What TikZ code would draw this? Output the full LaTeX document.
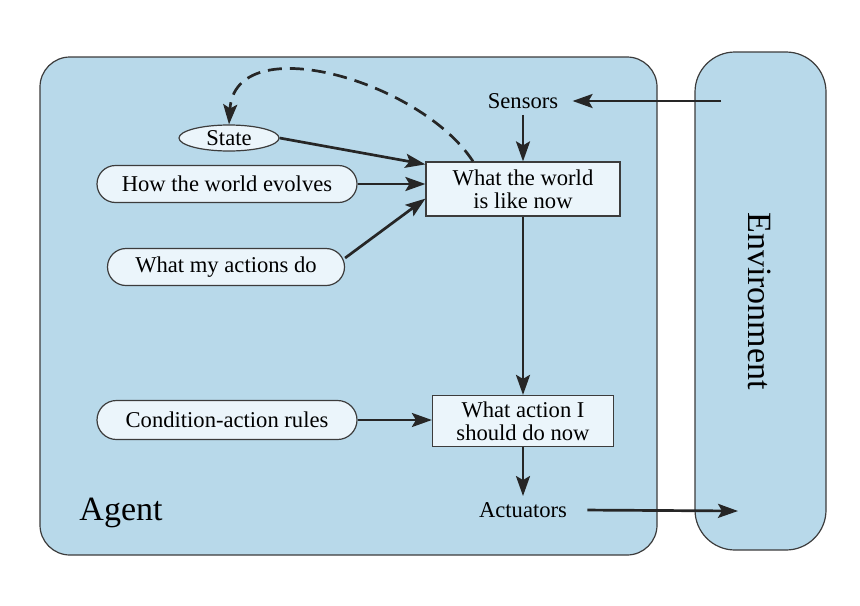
\documentclass[tikz,border=0pt]{standalone}
\usepackage{fontspec}
\setmainfont{Liberation Serif}
\usetikzlibrary{shapes.misc,shapes.geometric,arrows.meta}

\definecolor{agentblue}{HTML}{B8D9EA}
\definecolor{boxfill}{HTML}{EBF5FB}
\definecolor{edgegray}{HTML}{3C3C3C}

\tikzset{
  pill/.style={rounded rectangle, draw=edgegray, fill=boxfill, line width=0.6pt,
    minimum height=18.5pt, inner sep=0pt},
  mbox/.style={rectangle, draw=edgegray, fill=boxfill, line width=0.6pt,
    align=center, inner sep=0pt},
  lbl/.style={inner xsep=7pt, inner ysep=3pt},
  flow/.style={-{Stealth[length=10pt,width=7pt,inset=2pt]}, line width=1.35pt, draw=black!85},
  bigtext/.style={font=\rmfamily\fontsize{17}{17}\selectfont}
}

\begin{document}
\begin{tikzpicture}[x=0.5pt,y=-0.5pt,font=\rmfamily\fontsize{11.3}{11.5}\selectfont]
\useasboundingbox (0,0) rectangle (860,605);

% Agent and environment
\draw[edgegray, fill=agentblue, line width=0.6pt, rounded corners=15pt] (40,57) rectangle (657,555);
\draw[edgegray, fill=agentblue, line width=0.6pt, rounded corners=20pt] (695,52) rectangle (826,550);
\node[bigtext] (agent) at (121,513) {Agent};
\node[bigtext, rotate=-90] (env) at (760,301) {Environment};

% Inner nodes
\node[lbl] (sens) at (523,101) {Sensors};
\node[mbox, minimum width=97pt, minimum height=27pt] (wnow) at (523,189) {What the world\\is like now};
\node[ellipse, draw=edgegray, fill=boxfill, line width=0.6pt, minimum width=50pt,
  minimum height=13pt, inner sep=0pt] (state) at (229,138) {State};
\node[pill, minimum width=130pt] (evolve) at (227,184) {How the world evolves};
\node[pill, minimum width=118.5pt] (acts) at (226,267) {What my actions do};
\node[pill, minimum width=130pt, minimum height=19.5pt] (rules) at (227,420) {Condition-action rules};
\node[mbox, minimum width=90.5pt, minimum height=25.5pt] (todo) at (523,421) {What action I\\should do now};
\node[lbl] (act) at (523,510) {Actuators};
\coordinate (envin) at (721,101);
\coordinate (envout) at (738,511);

% Connectors
\draw[flow] (envin) -- (sens.east);
\draw[flow] (sens.south) -- (wnow.north);
\draw[flow] (state.east) -- ([yshift=-1.5pt]wnow.north west);
\draw[flow] (evolve.east) -- (evolve.east -| wnow.west);
\draw[flow] ([yshift=4.5pt]acts.east) -- ([yshift=9pt]wnow.south west);
\draw[flow, dash pattern=on 7pt off 4pt] ([xshift=-25pt]wnow.north)
  .. controls (420,80) and (235,28) .. (state.north);
\draw[flow] (wnow.south) -- (todo.north);
\draw[flow] (rules.east) -- (rules.east -| todo.west);
\draw[flow] (todo.south) -- (act.north);
\draw[flow, shorten <=3pt] (act.east) -- (envout);

\end{tikzpicture}
\end{document}
